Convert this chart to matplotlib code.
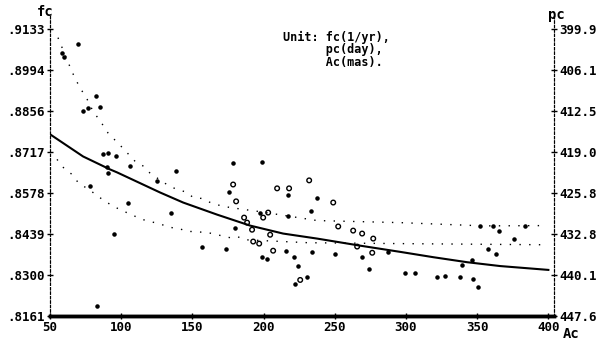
import numpy as np
import matplotlib.pyplot as plt

# fitted curve and the two band curves (Ac in mas, fc in 1/yr)
fit_ac = [50, 73.2, 92.2, 97.1, 127.3, 143.5, 167.4, 190.5, 213.7, 237.6, 267.9, 296.0, 319.2, 343.0, 366.2, 400]
fit_fc = [.8776, .8701, .8657, .8647, .8579, .8545, .8504, .8467, .8440, .8423, .8399, .8378, .8360, .8343, .8330, .8317]

up_ac = [55.6, 65.5, 70.4, 76.0, 80.2, 85.8, 90.8, 100.6, 110.4, 116.1, 120.3, 130.8, 135.7, 146.3,
         150.5, 156.1, 161.0, 166.7, 176.5, 197.6, 237.6, 296.0, 354.3, 399.3]
up_fc = [.9103, .8987, .8939, .8895, .8854, .8817, .8780, .8732, .8681, .8667, .8644, .8610, .8596, .8579,
         .8562, .8559, .8548, .8538, .8528, .8514, .8484, .8477, .8466, .8467]

lo_ac = [54.9, 59.8, 65.5, 69.7, 80.2, 85.8, 90.1, 95.0, 100.6, 110.4, 115.4, 120.3, 125.9, 130.8,
         135.7, 140.7, 146.3, 150.5, 161.0, 167.4, 176.5, 181.4, 187.0, 213.7, 231.3, 296.0, 399.3]
lo_fc = [.8691, .8661, .8640, .8613, .8579, .8559, .8545, .8531, .8518, .8497, .8487, .8481, .8474, .8467,
         .8460, .8457, .8447, .8447, .8443, .8436, .8426, .8430, .8419, .8413, .8409, .8406, .8402]

# observations
dot_ac = [69.7, 58.4, 59.8, 82.3, 73.2, 76.7, 85.1, 87.2, 90.8, 96.4, 106.2, 90.1, 90.8, 78.1, 104.8,
          95.0, 83.0, 125.2, 138.5, 178.6, 175.8, 180.0, 135.0, 156.8, 173.7, 197.6, 199.0, 202.5, 199.0,
          217.2, 237.6, 233.4, 250.3, 234.1, 221.5, 224.3, 222.2, 230.6, 217.2, 215.8, 269.2, 274.2, 287.5,
          299.5, 306.5, 322.0, 327.6, 338.1, 347.2, 350.8, 346.5, 339.5, 352.2, 361.3, 365.5, 376.1, 383.8,
          357.8, 363.4]
dot_fc = [.9082, .9052, .9038, .8906, .8855, .8865, .8868, .8708, .8712, .8702, .8668, .8664, .8644, .8600, .8542,
          .8440, .8195, .8617, .8651, .8678, .8579, .8460, .8511, .8396, .8389, .8511, .8362, .8355, .8681,
          .8569, .8562, .8518, .8372, .8379, .8362, .8331, .8270, .8294, .8501, .8382, .8362, .8321, .8379,
          .8307, .8307, .8294, .8297, .8294, .8287, .8260, .8351, .8334, .8464, .8467, .8447, .8423, .8464,
          .8389, .8372]

ring_ac = [178.6, 180.7, 186.3, 188.4, 191.9, 192.7, 196.9, 199.7, 203.2, 204.6, 206.7, 209.5, 217.9,
           232.0, 248.9, 252.4, 262.9, 269.2, 277.0, 276.3, 225.7, 265.7]
ring_fc = [.8606, .8549, .8494, .8477, .8453, .8413, .8406, .8494, .8511, .8436, .8382, .8593, .8593,
           .8620, .8545, .8464, .8450, .8440, .8423, .8375, .8283, .8396]

x_ticks = [50, 100, 150, 200, 250, 300, 350, 400]
fc_ticks = [.9133, .8994, .8856, .8717, .8578, .8439, .8300, .8161]
pc_labels = ['399.9', '406.1', '412.5', '419.0', '425.8', '432.8', '440.1', '447.6']

mono = 'DejaVu Sans Mono'

fig = plt.figure(figsize=(5.99, 3.41), dpi=100)
ax = fig.add_axes([0.0835, 0.0733, 0.8415, 0.883])

ax.plot(fit_ac, fit_fc, color='black', lw=1.5)
ax.plot(up_ac, up_fc, color='black', lw=1.0, linestyle=(0, (1, 6)))
ax.plot(lo_ac, lo_fc, color='black', lw=1.0, linestyle=(0, (1, 6)))
ax.scatter(dot_ac, dot_fc, s=5, color='black', zorder=3)
ax.scatter(ring_ac, ring_fc, s=11, facecolors='none', edgecolors='black', linewidths=1.0, zorder=3)

ax.set_xlim(50, 404)
ax.set_ylim(.8161, .9180)
ax.set_xticks(x_ticks)
ax.set_xticklabels([str(v) for v in x_ticks], fontfamily=mono, fontweight='bold', fontsize=9)
ax.set_yticks(fc_ticks)
ax.set_yticklabels(['.%04d' % round(v * 10000) for v in fc_ticks], fontfamily=mono, fontweight='bold', fontsize=9)
ax.tick_params(axis='both', direction='inout', length=5, width=1, pad=1)

ax2 = ax.twinx()
ax2.set_ylim(ax.get_ylim())
ax2.set_yticks(fc_ticks)
ax2.set_yticklabels(pc_labels, fontfamily=mono, fontweight='bold', fontsize=9)
ax2.tick_params(axis='y', direction='inout', length=5, width=1, pad=1)

for a in (ax, ax2):
    a.spines['top'].set_visible(False)
    a.spines['left'].set_linestyle((0, (2, 2)))
    a.spines['right'].set_linestyle((0, (2, 2)))
    a.spines['bottom'].set_linewidth(2.5)

fig.text(0.075, 0.965, 'fc', fontfamily=mono, fontweight='bold', fontsize=10, ha='center', va='center')
fig.text(0.915, 0.955, 'pc', fontfamily=mono, fontweight='bold', fontsize=10, ha='left', va='center')
fig.text(0.94, 0.02, 'Ac', fontfamily=mono, fontweight='bold', fontsize=10, ha='left', va='center')
fig.text(0.473, 0.91, 'Unit: fc(1/yr),\n      pc(day),\n      Ac(mas).', fontfamily=mono,
         fontweight='bold', fontsize=8.5, ha='left', va='top', linespacing=0.95)

fig.savefig('out.png', dpi=100)
